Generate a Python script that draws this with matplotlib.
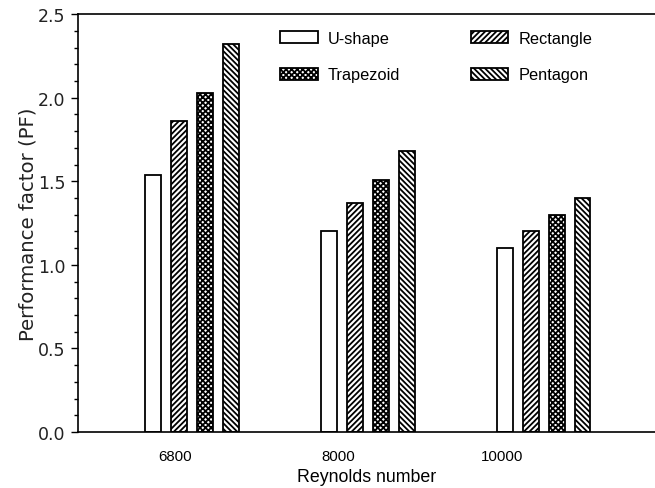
import numpy as np
import matplotlib
matplotlib.use('agg')
import matplotlib.pyplot as plt
from matplotlib.ticker import MultipleLocator

plt.rcParams['font.family'] = ['Liberation Sans', 'DejaVu Sans']
plt.rcParams['hatch.linewidth'] = 1.3

# data
reynolds = ['6800', '8000', '10000']
u_shape = [1.54, 1.20, 1.10]
rectangle = [1.86, 1.37, 1.20]
trapezoid = [2.03, 1.51, 1.30]
pentagon = [2.32, 1.68, 1.40]

series = [('U-shape', u_shape, ''),
          ('Rectangle', rectangle, '//////'),
          ('Trapezoid', trapezoid, 'xxxxxx'),
          ('Pentagon', pentagon, '\\\\\\\\\\\\')]

fig = plt.figure(figsize=(6.55, 4.89), dpi=100)
ax = fig.add_axes([0.119, 0.1145, 0.881, 0.8545])

x = np.arange(len(reynolds))
step = 0.148
width = 0.091
bars = {}
for i, (name, vals, hatch) in enumerate(series):
    bars[name] = ax.bar(x + (i - 1.5) * step, vals, width, color='white',
                        edgecolor='black', linewidth=1.3, hatch=hatch, label=name)

ax.set_xlim(-0.652, 2.635)
ax.set_ylim(0, 2.5)
ax.yaxis.set_major_locator(MultipleLocator(0.5))
ax.yaxis.set_minor_locator(MultipleLocator(0.1))
ax.yaxis.set_major_formatter(plt.FormatStrFormatter('%.1f'))
ax.tick_params(axis='y', which='major', direction='out', length=5, width=1, labelsize=12.5, pad=4)
ax.tick_params(axis='y', which='minor', direction='out', length=3, width=1)
for lab in ax.get_yticklabels():
    lab.set_family('DejaVu Sans')
    lab.set_color('#222222')

# group labels sit a bit left of the group centre, as in the original
ax.set_xticks([-0.10, 0.83, 1.765])
ax.set_xticklabels(reynolds)
ax.tick_params(axis='x', length=0, pad=12, labelsize=10.8)

ax.spines['right'].set_visible(False)
for s in ['left', 'bottom', 'top']:
    ax.spines[s].set_linewidth(1.2)

ax.set_xlabel('Reynolds number', fontsize=12.8, labelpad=4)
ax.set_ylabel('Performance factor (PF)', fontsize=14.2, labelpad=0, family='DejaVu Sans',
              color='#222222')

handles = [bars['U-shape'], bars['Trapezoid'], bars['Rectangle'], bars['Pentagon']]
labels = ['U-shape', 'Trapezoid', 'Rectangle', 'Pentagon']
ax.legend(handles, labels, ncol=2, frameon=False, fontsize=11.8,
          loc='upper left', bbox_to_anchor=(0.325, 0.995),
          handlelength=2.3, handleheight=0.75, handletextpad=0.6,
          columnspacing=4.3, labelspacing=1.3)

fig.savefig('out.png', dpi=100)
